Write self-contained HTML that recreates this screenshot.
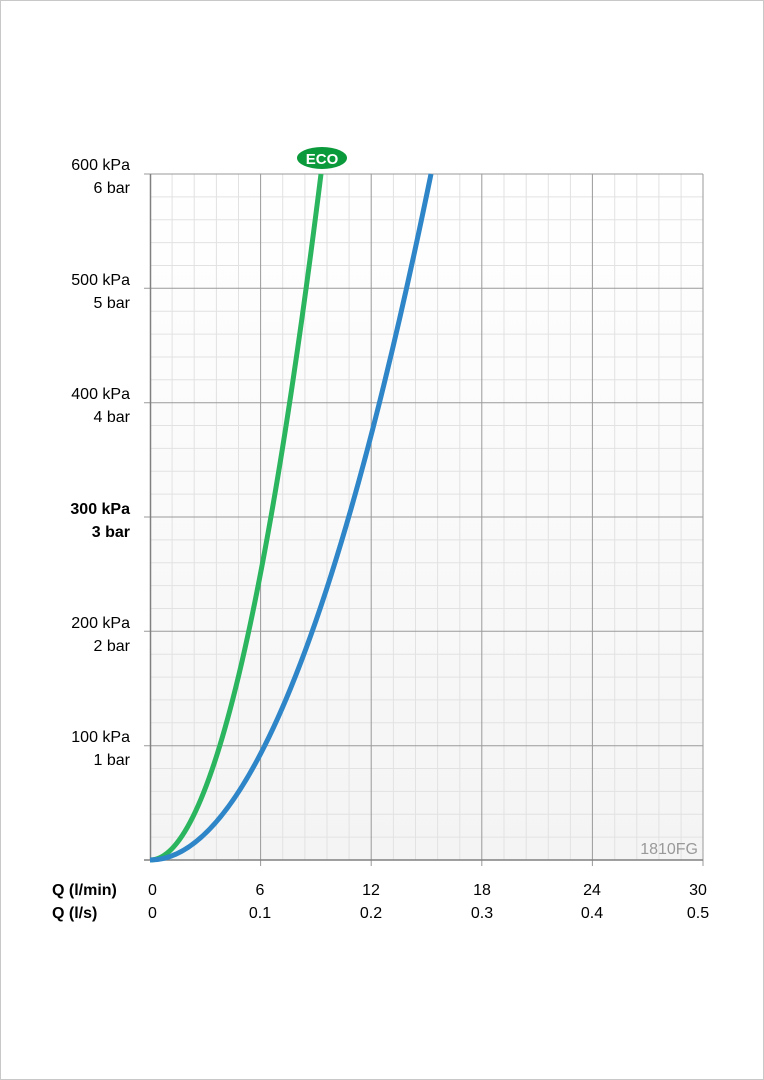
<!DOCTYPE html>
<html><head><meta charset="utf-8"><style>
html,body{margin:0;padding:0;background:#fff}
svg{display:block}
text{font-family:"Liberation Sans",Arial,sans-serif}
</style></head><body>
<svg width="764" height="1080" viewBox="0 0 764 1080" xmlns="http://www.w3.org/2000/svg">
<rect x="0.5" y="0.5" width="763" height="1079" fill="#fff" stroke="#c8c8c8"/>
<defs><linearGradient id="bg" x1="0" y1="0" x2="0" y2="1">
<stop offset="0" stop-color="#ffffff"/><stop offset="1" stop-color="#f4f4f4"/></linearGradient></defs>
<rect x="150" y="174" width="553" height="686" fill="url(#bg)"/>
<g stroke="#e2e2e2" stroke-width="1">
<path d="M172.1 174V860M194.2 174V860M216.4 174V860M238.5 174V860M282.7 174V860M304.9 174V860M327 174V860M349.1 174V860M393.4 174V860M415.5 174V860M437.6 174V860M459.8 174V860M504 174V860M526.2 174V860M548.3 174V860M570.4 174V860M614.7 174V860M636.8 174V860M658.9 174V860M681.1 174V860"/>
<path id="h" d="M150 196.9H703M150 219.7H703M150 242.6H703M150 265.5H703M150 311.2H703M150 334.1H703M150 357H703M150 379.8H703M150 425.5H703M150 448.4H703M150 471.3H703M150 494.1H703M150 539.9H703M150 562.7H703M150 585.6H703M150 608.5H703M150 654.2H703M150 677.1H703M150 699.9H703M150 722.8H703M150 768.5H703M150 791.4H703M150 814.3H703M150 837.1H703"/>
</g>
<g stroke="#9a9a9a" stroke-width="1">
<path d="M260.6 174V866M371.2 174V866M481.8 174V866M592.4 174V866M703 174V866"/>
<path d="M144 174H703M144 288.3H703M144 402.7H703M144 517H703M144 631.3H703M144 745.7H703"/>
</g>
<path d="M150.5 174V860M144 860H703" stroke="#808080" stroke-width="1.5" fill="none"/>
<path d="M150 860Q235.5 860 321 174" stroke="#2bb55e" stroke-width="5" fill="none"/>
<path d="M150 860Q290.5 860 431 174" stroke="#2e86c8" stroke-width="5" fill="none"/>
<ellipse cx="322" cy="158" rx="25" ry="11" fill="#0a9a3c"/>
<text x="322" y="164" font-size="15" font-weight="bold" fill="#fff" text-anchor="middle">ECO</text>
<text x="698" y="854" font-size="16" fill="#999" text-anchor="end">1810FG</text>
<g font-size="16" fill="#000" text-anchor="end">
<text x="130" y="170">600 kPa</text><text x="130" y="193">6 bar</text>
<text x="130" y="285">500 kPa</text><text x="130" y="308">5 bar</text>
<text x="130" y="399">400 kPa</text><text x="130" y="422">4 bar</text>
<text x="130" y="514" font-weight="bold">300 kPa</text><text x="130" y="537" font-weight="bold">3 bar</text>
<text x="130" y="628">200 kPa</text><text x="130" y="651">2 bar</text>
<text x="130" y="742">100 kPa</text><text x="130" y="765">1 bar</text>
</g>
<g font-size="16" fill="#000">
<text x="52" y="895" font-weight="bold">Q (l/min)</text>
<text x="52" y="918" font-weight="bold">Q (l/s)</text>
<text x="148" y="895">0</text><text x="148" y="918">0</text>
</g>
<g font-size="16" fill="#000" text-anchor="middle">
<text x="260" y="895">6</text><text x="260" y="918">0.1</text>
<text x="371" y="895">12</text><text x="371" y="918">0.2</text>
<text x="482" y="895">18</text><text x="482" y="918">0.3</text>
<text x="592" y="895">24</text><text x="592" y="918">0.4</text>
<text x="698" y="895">30</text><text x="698" y="918">0.5</text>
</g>
</svg>
</body></html>
